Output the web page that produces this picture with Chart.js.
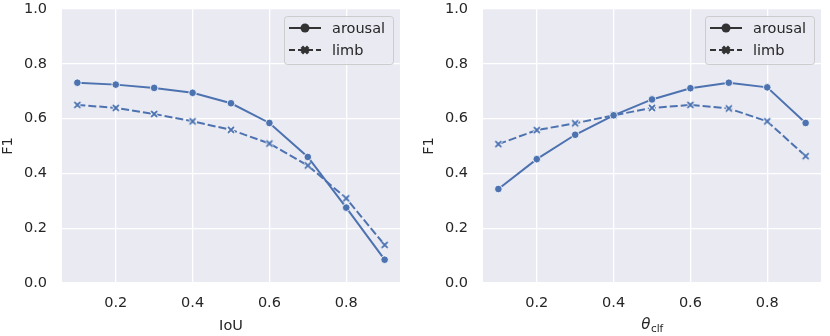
<!DOCTYPE html>
<html>
<head>
<meta charset="utf-8">
<script src="https://cdn.jsdelivr.net/npm/chart.js@4.4.0/dist/chart.umd.min.js"></script>
<style>
  body { margin: 0; background: #fff; width: 830px; height: 336px; overflow: hidden; position: relative; }
  .panel { position: absolute; top: 0; width: 415px; height: 336px; }
</style>
</head>
<body>
<div class="panel" style="left:0"><canvas id="iouChart" width="415" height="336"></canvas></div>
<div class="panel" style="left:415px"><canvas id="clfChart" width="415" height="336"></canvas></div>
<script>
// --- data ---
const xValues = [0.1, 0.2, 0.3, 0.4, 0.5, 0.6, 0.7, 0.8, 0.9];
const xTicks = [0.2, 0.4, 0.6, 0.8];
const yTicks = [0.0, 0.2, 0.4, 0.6, 0.8, 1.0];
const seriesNames = ['arousal', 'limb'];

const iouArousal = [0.731, 0.724, 0.712, 0.694, 0.656, 0.584, 0.460, 0.275, 0.085];
const iouLimb    = [0.650, 0.639, 0.617, 0.590, 0.559, 0.509, 0.429, 0.309, 0.139];
const clfArousal = [0.343, 0.452, 0.541, 0.612, 0.670, 0.711, 0.731, 0.714, 0.584];
const clfLimb    = [0.507, 0.558, 0.583, 0.612, 0.639, 0.650, 0.637, 0.590, 0.463];

// --- style ---
const BLUE = '#4C72B0';
const BG = '#EAEAF2';
const TXT = '#262626';
const FONT = 'DejaVu Sans';
const FS = 14.5;
const DASH = [8, 3];

// filled X marker with white edge
function makeXMarker(size, lw) {
  const c = document.createElement('canvas');
  c.width = size; c.height = size;
  const g = c.getContext('2d');
  const a = 2, b = size - 2;
  g.beginPath(); g.moveTo(a, a); g.lineTo(b, b); g.moveTo(b, a); g.lineTo(a, b);
  g.strokeStyle = '#fff'; g.lineWidth = lw + 1.6; g.stroke();
  g.strokeStyle = BLUE; g.lineWidth = lw; g.stroke();
  return c;
}
const xMarker = makeXMarker(10, 1.8);

const toPoints = vals => vals.map((v, i) => ({ x: xValues[i], y: v }));

// legend + x title drawn on top of the plot
const overlayPlugin = {
  id: 'overlay',
  afterDraw(chart, args, opts) {
    const ctx = chart.ctx;
    const area = chart.chartArea;
    ctx.save();

    // x title
    const cx = (area.left + area.right) / 2;
    const ty = area.bottom + 43;
    ctx.fillStyle = TXT;
    ctx.textBaseline = 'middle';
    if (opts.theta) {
      ctx.font = `italic 15px "${FONT}"`;
      const w1 = ctx.measureText('θ').width;
      ctx.font = `10.5px "${FONT}"`;
      const w2 = ctx.measureText('clf').width;
      const x0 = cx - (w1 + w2) / 2;
      ctx.font = `italic 15px "${FONT}"`;
      ctx.textAlign = 'left';
      ctx.fillText('θ', x0, ty - 1);
      ctx.font = `10.5px "${FONT}"`;
      ctx.fillText('clf', x0 + w1 + 0.5, ty + 3);
    } else {
      ctx.font = `${FS}px "${FONT}"`;
      ctx.textAlign = 'center';
      ctx.fillText(opts.xTitle, cx, ty);
    }

    // legend box
    const bw = 109, bh = 48;
    const bx = area.right - 7 - bw, by = area.top + 7;
    ctx.beginPath();
    ctx.roundRect(bx + 0.5, by + 0.5, bw, bh, 3);
    ctx.fillStyle = 'rgba(234,234,242,0.8)';
    ctx.fill();
    ctx.strokeStyle = '#CCCCCC';
    ctx.lineWidth = 1;
    ctx.stroke();

    seriesNames.forEach((name, i) => {
      const ry = by + 12 + i * 22;
      const lx0 = bx + 5, lx1 = bx + 37, mx = bx + 21;
      ctx.beginPath();
      ctx.setLineDash(i === 0 ? [] : [6, 3]);
      ctx.moveTo(lx0, ry); ctx.lineTo(lx1, ry);
      ctx.strokeStyle = '#333'; ctx.lineWidth = 2; ctx.stroke();
      ctx.setLineDash([]);
      if (i === 0) {
        ctx.beginPath(); ctx.arc(mx, ry, 4.5, 0, Math.PI * 2);
        ctx.fillStyle = '#333'; ctx.fill();
      } else {
        ctx.beginPath();
        ctx.moveTo(mx - 3.2, ry - 3.2); ctx.lineTo(mx + 3.2, ry + 3.2);
        ctx.moveTo(mx + 3.2, ry - 3.2); ctx.lineTo(mx - 3.2, ry + 3.2);
        ctx.strokeStyle = '#333'; ctx.lineWidth = 3.5; ctx.stroke();
      }
      ctx.font = `${FS}px "${FONT}"`;
      ctx.fillStyle = TXT;
      ctx.textAlign = 'left';
      ctx.fillText(name, bx + 48, ry + 1);
    });
    ctx.restore();
  }
};

const bgPlugin = {
  id: 'plotBg',
  beforeDraw(chart) {
    const { ctx, chartArea: a } = chart;
    ctx.save();
    ctx.fillStyle = BG;
    ctx.fillRect(a.left, a.top, a.right - a.left, a.bottom - a.top);
    ctx.restore();
  }
};

function makeChart(id, arousal, limb, theta, xTitle, pad) {
  return new Chart(document.getElementById(id), {
    type: 'line',
    data: {
      datasets: [
        {
          label: seriesNames[0], data: toPoints(arousal),
          borderColor: BLUE, borderWidth: 2, tension: 0,
          pointStyle: 'circle', pointRadius: 3.8, pointBackgroundColor: BLUE,
          pointBorderColor: '#fff', pointBorderWidth: 0.8
        },
        {
          label: seriesNames[1], data: toPoints(limb),
          borderColor: BLUE, borderWidth: 2, borderDash: DASH, tension: 0,
          pointStyle: xMarker, pointRadius: 5
        }
      ]
    },
    options: {
      responsive: false, animation: false,
      layout: { padding: pad },
      plugins: { legend: { display: false }, tooltip: { enabled: false }, overlay: { xTitle, theta } },
      scales: {
        x: {
          type: 'linear', min: 0.06, max: 0.94,
          afterBuildTicks: s => { s.ticks = xTicks.map(v => ({ value: v })); },
          afterFit: s => { s.height = 53; s.paddingLeft = 0; s.paddingRight = 0; },
          border: { display: false },
          grid: { color: '#fff', lineWidth: 1.3, drawTicks: false },
          ticks: { padding: 12, color: TXT, font: { family: FONT, size: FS }, callback: v => v.toFixed(1), maxRotation: 0 }
        },
        y: {
          min: 0, max: 1,
          afterBuildTicks: s => { s.ticks = yTicks.map(v => ({ value: v })); },
          afterFit: s => { s.width = 62; s.paddingTop = 0; s.paddingBottom = 0; },
          border: { display: false },
          grid: { color: '#fff', lineWidth: 1.3, drawTicks: false },
          ticks: { padding: 15, color: TXT, font: { family: FONT, size: FS }, callback: v => v.toFixed(1) },
          title: { display: true, text: 'F1', color: TXT, font: { family: FONT, size: FS }, padding: { top: 0, bottom: 0 } }
        }
      }
    },
    plugins: [bgPlugin, overlayPlugin]
  });
}

makeChart('iouChart', iouArousal, iouLimb, false, 'IoU', { top: 9, right: 15, left: 0, bottom: 0 });
makeChart('clfChart', clfArousal, clfLimb, true, '', { top: 9, right: 9, left: 6, bottom: 0 });
</script>
</body>
</html>
